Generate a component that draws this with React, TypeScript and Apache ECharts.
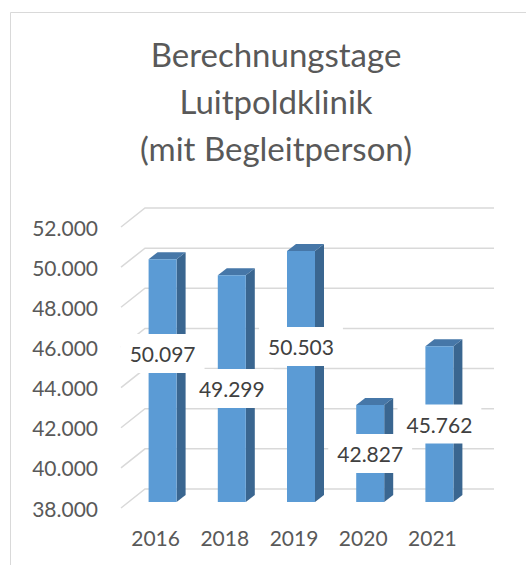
import React, { useEffect, useRef } from "react";
import * as echarts from "echarts";

const years = ["2016", "2018", "2019", "2020", "2021"];
const days = [50097, 49299, 50503, 42827, 45762];
const yTicks = [38000, 40000, 42000, 44000, 46000, 48000, 50000, 52000];
const chartTitle = "Berechnungstage\nLuitpoldklinik\n(mit Begleitperson)";

const FONT = "Lato, 'Open Sans', sans-serif";
const fmt = (v: number) => {
  const t = Math.floor(v / 1000);
  const r = Math.round(v % 1000);
  return t + "." + String(r).padStart(3, "0");
};

// 3D styling constants
const DEPTH_X = 9;
const DEPTH_Y = 7;
const BAR_SHIFT_X = 7;
const BAR_SHIFT_Y = -6;
const BAR_W = 28;
const WALL_X = 24;
const WALL_Y = 19;
const LABEL_NUDGE = [-27, 0, -30, 0, 0];

export default function App() {
  const ref = useRef<HTMLDivElement>(null);
  useEffect(() => {
    if (!ref.current) return;
    const chart = echarts.init(ref.current, undefined, { renderer: "svg" });
    chart.setOption({
      animation: false,
      backgroundColor: "#ffffff",
      title: {
        text: chartTitle,
        left: 271,
        top: 25,
        textAlign: "center",
        textStyle: {
          fontFamily: FONT,
          fontSize: 33,
          fontWeight: "normal",
          color: "#595959",
          lineHeight: 47,
        },
      },
      graphic: [
        {
          type: "rect",
          shape: { x: 10.5, y: 12.5, width: 700, height: 700 },
          style: { fill: "none", stroke: "#d9d9d9", lineWidth: 1 },
          silent: true,
          z: 0,
        },
      ],
      grid: { left: 121, right: 59, top: 227, bottom: 57 },
      xAxis: {
        type: "category",
        data: years,
        axisLine: { show: false },
        axisTick: { show: false },
        axisLabel: {
          fontFamily: FONT,
          fontSize: 21,
          color: "#595959",
          margin: 19,
        },
      },
      yAxis: {
        type: "value",
        min: 38000,
        max: 52000,
        interval: 2000,
        axisLine: { show: false },
        axisTick: { show: false },
        splitLine: { show: false },
        axisLabel: {
          fontFamily: FONT,
          fontSize: 21,
          color: "#595959",
          margin: 23,
          formatter: (v: number) => fmt(v),
        },
      },
      series: [
        {
          type: "custom",
          z: 1,
          silent: true,
          data: yTicks.map((t) => [0, t]),
          encode: { x: 0, y: 1 },
          renderItem: (params: any, api: any) => {
            const cs = params.coordSys;
            const y = api.coord([0, api.value(1)])[1];
            const left = cs.x;
            const right = cs.x + cs.width + 27;
            return {
              type: "polyline",
              shape: {
                points: [
                  [left, y],
                  [left + WALL_X, y - WALL_Y],
                  [right, y - WALL_Y],
                ],
              },
              style: { stroke: "#d9d9d9", lineWidth: 1.5, fill: "none" },
            };
          },
        },
        {
          type: "custom",
          z: 2,
          data: days.map((d, i) => [i, d]),
          encode: { x: 0, y: 1 },
          renderItem: (params: any, api: any) => {
            const idx = api.value(0);
            const top = api.coord([idx, api.value(1)]);
            const base = api.coord([idx, 38000]);
            const cx = top[0] + BAR_SHIFT_X;
            const x0 = cx - BAR_W / 2;
            const x1 = cx + BAR_W / 2;
            const yt = top[1] + BAR_SHIFT_Y;
            const yb = base[1] + BAR_SHIFT_Y;
            return {
              type: "group",
              children: [
                {
                  type: "polygon",
                  shape: {
                    points: [
                      [x1, yt],
                      [x1 + DEPTH_X, yt - DEPTH_Y],
                      [x1 + DEPTH_X, yb - DEPTH_Y],
                      [x1, yb],
                    ],
                  },
                  style: { fill: "#3a6690" },
                },
                {
                  type: "polygon",
                  shape: {
                    points: [
                      [x0, yt],
                      [x0 + DEPTH_X, yt - DEPTH_Y],
                      [x1 + DEPTH_X, yt - DEPTH_Y],
                      [x1, yt],
                    ],
                  },
                  style: { fill: "#4677a8" },
                },
                {
                  type: "rect",
                  shape: { x: x0, y: yt, width: BAR_W, height: yb - yt },
                  style: { fill: "#5b9bd5" },
                },
              ],
            };
          },
        },
        {
          type: "custom",
          z: 3,
          data: days.map((d, i) => [i, d]),
          encode: { x: 0, y: 1 },
          renderItem: (params: any, api: any) => {
            const idx = api.value(0);
            const top = api.coord([idx, api.value(1)]);
            const base = api.coord([idx, 38000]);
            const cx = top[0] + BAR_SHIFT_X;
            const yt = top[1] + BAR_SHIFT_Y;
            const yb = base[1] + BAR_SHIFT_Y;
            const ym = (yt + yb) / 2 + LABEL_NUDGE[params.dataIndex];
            return {
              type: "text",
              x: cx,
              y: ym,
              style: {
                text: fmt(api.value(1)),
                fontFamily: FONT,
                fontSize: 21,
                fill: "#404040",
                align: "center",
                verticalAlign: "middle",
                backgroundColor: "#ffffff",
                padding: [9, 9, 9, 9],
              },
            };
          },
        },
      ],
    });
    return () => chart.dispose();
  }, []);
  return (
    <div
      ref={ref}
      style={{ position: "fixed", left: 0, top: 0, width: 526, height: 565 }}
    />
  );
}
